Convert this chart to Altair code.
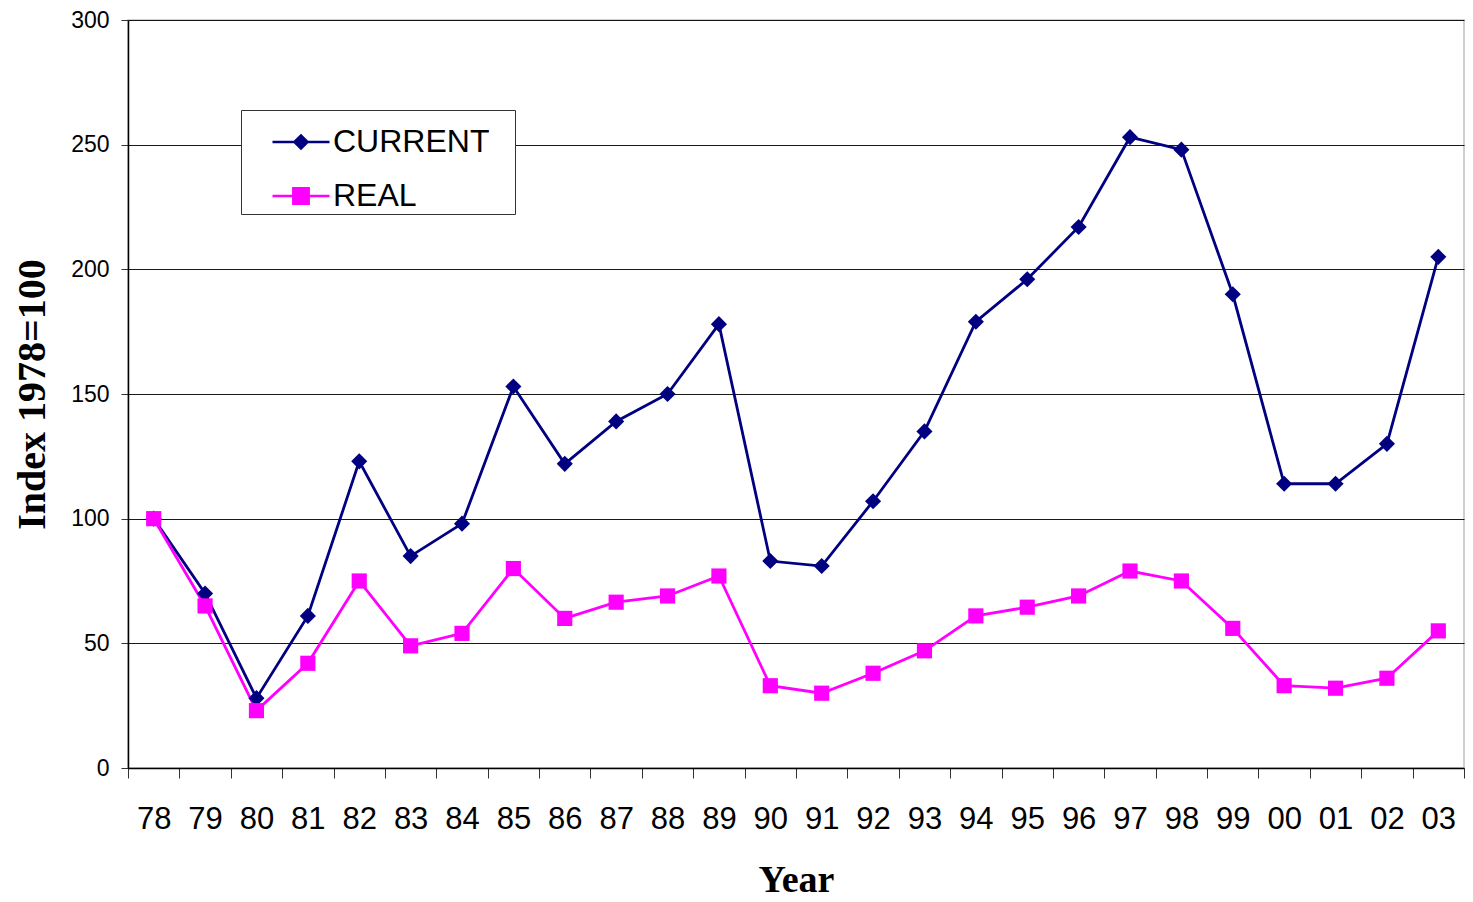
import altair as alt
import pandas as pd

years = ["78", "79", "80", "81", "82", "83", "84", "85", "86", "87", "88", "89", "90",
         "91", "92", "93", "94", "95", "96", "97", "98", "99", "00", "01", "02", "03"]
current = [100, 70, 28, 61, 123, 85, 98, 153, 122, 139, 150, 178, 83,
           81, 107, 135, 179, 196, 217, 253, 248, 190, 114, 114, 130, 205]
real = [100, 65, 23, 42, 75, 49, 54, 80, 60, 66.5, 69, 77, 33,
        30, 38, 47, 61, 64.5, 69, 79, 75, 56, 33, 32, 36, 55]
series_names = ["CURRENT", "REAL"]
series_colors = ["#000080", "#FF00FF"]

rows = []
for i, y in enumerate(years):
    rows.append({"year": y, "order": i, "series": "CURRENT", "series_p": "CURRENT", "value": current[i]})
    rows.append({"year": y, "order": i, "series": "REAL", "series_p": "REAL", "value": real[i]})
df = pd.DataFrame(rows)

W, H = 1336, 748
LEFT = 120

x_enc = alt.X(
    "year:N", sort=years, bandPosition=0.5,
    scale=alt.Scale(type="band", domain=years, paddingInner=0, paddingOuter=0),
    axis=alt.Axis(
        title="Year", tickBand="extent", grid=False,
        labelFont="Liberation Sans", labelFontSize=31, labelColor="black",
        labelAngle=0, labelPadding=26, tickSize=10, tickColor="#333333",
        domainColor="black", domainWidth=1.5,
        titleFont="Liberation Serif", titleFontWeight="bold", titleFontSize=38,
        titleColor="black", titleX=W / 2, titleY=123, titleBaseline="alphabetic",
        titleAlign="center",
    ),
)
y_enc = alt.Y(
    "value:Q",
    scale=alt.Scale(domain=[0, 300], nice=False, zero=True),
    axis=alt.Axis(
        title="Index 1978=100", values=[0, 50, 100, 150, 200, 250, 300],
        grid=True, gridColor="black", gridWidth=1, gridOpacity=0.9,
        labelFont="Liberation Sans", labelFontSize=23, labelColor="black",
        labelPadding=12, tickSize=7, tickColor="#333333",
        domainColor="black", domainWidth=1.5,
        titleFont="Liberation Serif", titleFontWeight="bold", titleFontSize=40,
        titleColor="black", titleAngle=-90, titleX=-96, titleY=H / 2,
        titleBaseline="middle", titleAlign="center",
    ),
)

legend_paths = [
    "M-1,0H1M-0.23,0L0,-0.23L0.23,0L0,0.23Z",
    "M-1,0H1M-0.27,-0.27H0.27V0.27H-0.27Z",
]
first = series_names[0]
shape_sig = f"datum.value === '{first}' ? '{legend_paths[0]}' : '{legend_paths[1]}'"
color_sig = f"datum.value === '{first}' ? '{series_colors[0]}' : '{series_colors[1]}'"

legend = alt.Legend(
    title="\u00a0",
    titleOrient="right",
    titlePadding=24,
    titleFontSize=4,
    symbolType=alt.ExprRef(expr=shape_sig),
    symbolFillColor=alt.ExprRef(expr=color_sig),
    symbolStrokeColor=alt.ExprRef(expr=color_sig),
    symbolStrokeWidth=2.5,
    symbolSize=3249,
    symbolOpacity=1,
)

lines = alt.Chart(df).mark_line(strokeWidth=2.8).encode(
    x=x_enc, y=y_enc,
    color=alt.Color("series:N", scale=alt.Scale(domain=series_names, range=series_colors), legend=legend),
    order="order:Q",
)

points = alt.Chart(df).mark_point(filled=True, opacity=1).encode(
    x=x_enc, y=y_enc,
    color=alt.Color("series_p:N", scale=alt.Scale(domain=series_names, range=series_colors), legend=None),
    shape=alt.Shape("series_p:N", scale=alt.Scale(domain=series_names, range=["diamond", "square"]), legend=None),
    size=alt.Size("series_p:N", scale=alt.Scale(domain=series_names, range=[260, 230]), legend=None),
)

chart = alt.layer(lines, points).resolve_scale(
    color="independent", shape="independent", size="independent"
).resolve_legend(
    color="independent", shape="independent", size="independent"
).properties(
    width=W, height=H,
    autosize=alt.AutoSizeParams(type="none"),
    padding={"left": LEFT, "top": 12, "right": 1, "bottom": 134},
).configure_view(
    stroke="#c0c0c0", strokeWidth=1.5,
).configure_legend(
    orient="none", legendX=113, legendY=90,
    strokeColor="#333333", fillColor="white", padding=2,
    symbolOffset=28,
    labelFont="Liberation Sans", labelFontSize=32, labelColor="black",
    labelOffset=2, rowPadding=8,
)

chart.save("out.html", embed_options={"renderer": "svg", "actions": False})
